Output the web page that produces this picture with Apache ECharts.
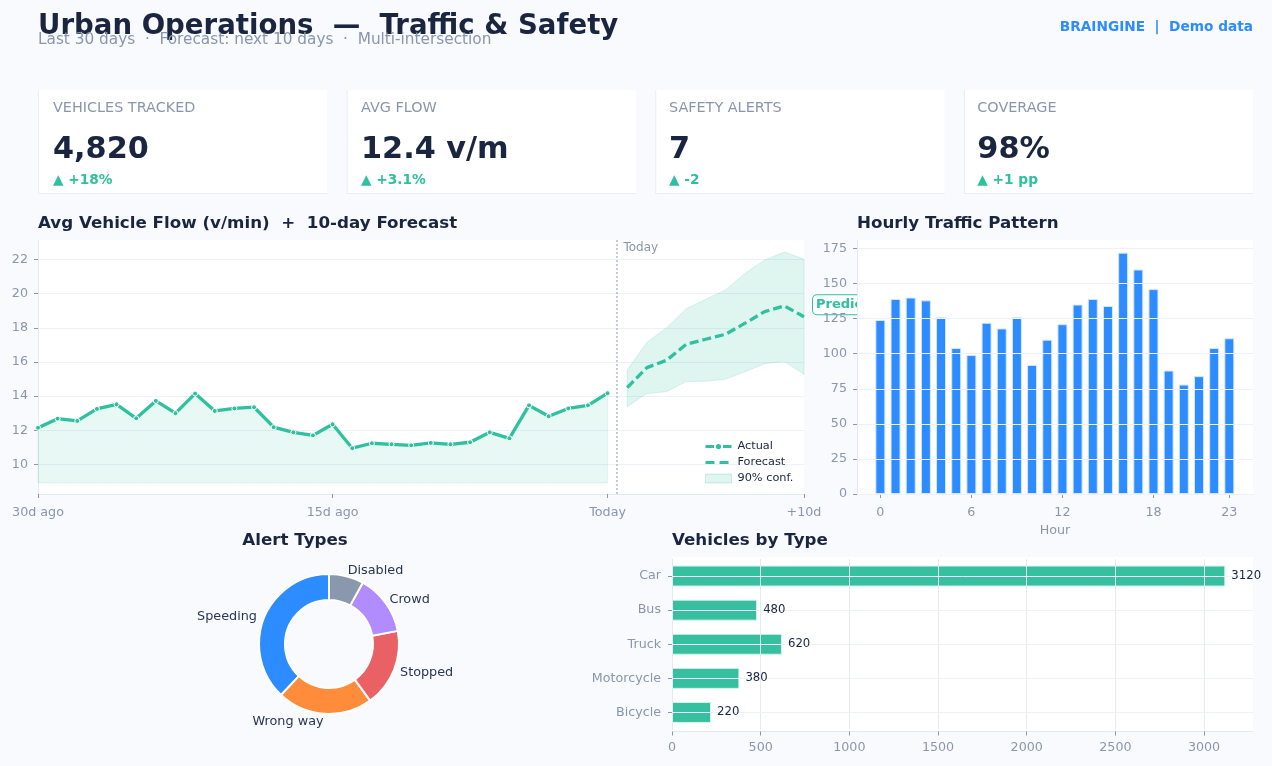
<!DOCTYPE html>
<html>
<head>
<meta charset="utf-8">
<title>Urban Operations</title>
<script src="https://cdn.jsdelivr.net/npm/echarts@6/dist/echarts.min.js"></script>
<style>
html, body { margin: 0; padding: 0; background: #F8FAFE; }
#main { width: 1272px; height: 766px; }
</style>
</head>
<body>
<div id="main"></div>
<script>
// card values
var cardLabels = ['VEHICLES TRACKED', 'AVG FLOW', 'SAFETY ALERTS', 'COVERAGE'];
var cardValues = ['4,820', '12.4 v/m', '7', '98%'];
var cardDeltas = ['▲ +18%', '▲ +3.1%', '▲ -2', '▲ +1 pp'];

// flow chart
var actualFlow = [12.15, 12.68, 12.55, 13.25, 13.52, 12.7, 13.72, 13.0, 14.15, 13.13, 13.28, 13.35, 12.18, 11.88, 11.7, 12.35,
	10.95, 11.24, 11.18, 11.12, 11.26, 11.18, 11.3, 11.88, 11.53, 13.46, 12.82, 13.28, 13.46, 14.17];
var forecastFlow = [14.5, 15.67, 16.1, 17.03, 17.33, 17.62, 18.27, 18.95, 19.28, 18.65];
var forecastUpper = [15.53, 17.15, 18.0, 19.12, 19.67, 20.22, 21.2, 21.97, 22.44, 22.03];
var forecastLower = [13.38, 14.15, 14.26, 14.85, 14.87, 14.99, 15.43, 15.9, 16.02, 15.28];
var actualFloor = 8.92;
var flowTicks = [10, 12, 14, 16, 18, 20, 22];
var dayTicks = [0, 15, 29, 39];
var dayLabels = ['30d ago', '15d ago', 'Today', '+10d'];
var todayMark = 29.45;

// hourly chart
var hourlyCounts = [124, 139, 140, 138, 126, 104, 99, 122, 118, 126, 92, 110, 121, 135, 139, 134, 172, 160, 146, 88, 78, 84, 104, 111];
var hourTicks = [0, 6, 12, 18, 23];
var countTicks = [0, 25, 50, 75, 100, 125, 150, 175];

// alert donut
var alertNames = ['Speeding', 'Wrong way', 'Stopped', 'Crowd', 'Disabled'];
var alertValues = [38, 22, 18, 14, 8];
var alertColors = ['#2D8CFF', '#FF8C3A', '#E96065', '#B18CFF', '#8A98AD'];

// vehicle types
var vehicleTypes = ['Car', 'Bus', 'Truck', 'Motorcycle', 'Bicycle'];
var vehicleCounts = [3120, 480, 620, 380, 220];
var vehicleTicks = [0, 500, 1000, 1500, 2000, 2500, 3000];

var green = '#2FC09F';
var navy = '#1A2540';
var gray = '#8A96AD';
var gridColor = '#EEF1F7';
var axisColor = '#E4E9F2';
var font = '"DejaVu Sans"';

function range(start, count) {
	var out = [];
	for (var i = 0; i < count; i++) {
		out.push(start + i);
	}
	return out;
}

var actualX = range(0, actualFlow.length);
var forecastX = range(30, forecastFlow.length);

// one polygon between two value lists, drawn once for the whole series
function bandItem(xs, lower, upper, fill, stroke) {
	return function(params, api) {
		if (params.dataIndex !== 0) {
			return null;
		}
		var points = [];
		for (var i = 0; i < xs.length; i++) {
			points.push(api.coord([xs[i], upper[i]]));
		}
		for (var j = xs.length - 1; j >= 0; j--) {
			points.push(api.coord([xs[j], lower[j]]));
		}
		return {
			type: 'polygon',
			shape: { points: points },
			style: { fill: fill, stroke: stroke, lineWidth: 1 }
		};
	};
}

function pairs(xs, ys) {
	return xs.map(function(x, i) { return [x, ys[i]]; });
}

function sectionTitle(text, x, y, align) {
	return {
		type: 'text',
		x: x,
		y: y,
		z: 10,
		style: { text: text, fill: navy, font: 'bold 16.7px ' + font, textAlign: align || 'left', textVerticalAlign: 'middle' }
	};
}

var cardLeft = [38, 346.7, 655.3, 964];
var cardTextLeft = [53, 361, 669, 977.3];
var graphics = [
	{ type: 'text', x: 38, y: 26.5, z: 10, style: { text: 'Urban Operations  —  Traffic & Safety', fill: navy, font: 'bold 27.6px ' + font, textVerticalAlign: 'middle' } },
	{ type: 'text', x: 38, y: 40, z: 11, style: { text: 'Last 30 days  ·  Forecast: next 10 days  ·  Multi-intersection', fill: gray, font: '15.3px ' + font, textVerticalAlign: 'middle' } },
	{ type: 'text', x: 1253, y: 27, z: 10, style: { text: 'BRAINGINE  |  Demo data', fill: '#2D8CFF', font: 'bold 13.7px ' + font, textAlign: 'right', textVerticalAlign: 'middle' } },
	sectionTitle('Avg Vehicle Flow (v/min)  +  10-day Forecast', 38, 224),
	sectionTitle('Hourly Traffic Pattern', 857, 224),
	sectionTitle('Alert Types', 295, 541, 'center'),
	sectionTitle('Vehicles by Type', 672, 541),
	// white panel behind the vehicles plot
	{ type: 'rect', shape: { x: 672, y: 557, width: 581, height: 174 }, z: -10, style: { fill: '#FFFFFF' } }
];

cardLabels.forEach(function(label, i) {
	var x = cardLeft[i];
	var tx = cardTextLeft[i];
	graphics.push(
		{ type: 'rect', shape: { x: x, y: 90, width: 289.5, height: 104 }, z: 1, style: { fill: '#E9EDF4' } },
		{ type: 'rect', shape: { x: x + 1, y: 90, width: 288.5, height: 103 }, z: 2, style: { fill: '#FFFFFF' } },
		{ type: 'text', x: tx, y: 108, z: 3, style: { text: label, fill: gray, font: '14.4px ' + font, textVerticalAlign: 'middle' } },
		{ type: 'text', x: tx, y: 150, z: 3, style: { text: cardValues[i], fill: navy, font: 'bold 30.3px ' + font, textVerticalAlign: 'middle' } },
		{ type: 'text', x: tx, y: 180, z: 3, style: { text: cardDeltas[i], fill: green, font: 'bold 13.7px ' + font, textVerticalAlign: 'middle' } }
	);
});

// nudges for the donut labels, label order follows alertNames
var alertLabelShift = [[-1, -1], [4, 7], [0, 3], [-2, -3], [-4, -5]];

var axisText = { color: gray, fontSize: 12.7, fontFamily: font };

var option = {
	animation: false,
	backgroundColor: '#F8FAFE',
	textStyle: { fontFamily: font },
	graphic: { elements: graphics },
	grid: [
		{ left: 38, top: 240, width: 766, height: 254, show: true, backgroundColor: '#FFFFFF', borderWidth: 0, z: -5 },
		{ left: 857, top: 240, width: 396, height: 254, show: true, backgroundColor: '#FFFFFF', borderWidth: 0, z: 0 },
		{ left: 672, top: 559, width: 581, height: 170.5, show: false }
	],
	legend: {
		left: 699,
		top: 436,
		orient: 'vertical',
		itemWidth: 26,
		itemHeight: 9,
		itemGap: 5,
		textStyle: { color: navy, fontSize: 11.3, fontFamily: font, padding: [0, 0, 0, 1] },
		data: [
			{ name: 'Actual', lineStyle: { color: green, width: 3 }, itemStyle: { color: green, borderColor: '#FFFFFF', borderWidth: 2 } },
			{ name: 'Forecast', lineStyle: { color: green, width: 3, type: [9, 5] }, itemStyle: { opacity: 0 } },
			{ name: '90% conf.', icon: 'rect', itemStyle: { color: 'rgba(47,192,159,0.16)', borderColor: 'rgba(47,192,159,0.22)', borderWidth: 1 } }
		]
	},
	xAxis: [
		{
			gridIndex: 0,
			type: 'value',
			min: 0,
			max: 39,
			axisLine: { onZero: false, lineStyle: { color: axisColor } },
			axisTick: { show: true, length: 4, lineStyle: { color: gray }, customValues: dayTicks },
			axisLabel: Object.assign({}, axisText, {
				margin: 12,
				customValues: dayTicks,
				formatter: function(v) { return dayLabels[dayTicks.indexOf(v)]; }
			}),
			splitLine: { show: false }
		},
		{
			gridIndex: 1,
			type: 'value',
			min: -1.54,
			max: 24.56,
			name: 'Hour',
			nameLocation: 'middle',
			nameGap: 30,
			nameTextStyle: { color: gray, fontSize: 12.7 },
			axisLine: { onZero: false, lineStyle: { color: axisColor } },
			axisTick: { show: true, length: 4, lineStyle: { color: gray }, customValues: hourTicks },
			axisLabel: Object.assign({}, axisText, { margin: 12, customValues: hourTicks }),
			splitLine: { show: false }
		},
		{
			gridIndex: 2,
			type: 'value',
			min: 0,
			max: 3276,
			offset: 2,
			z: 5,
			axisLine: { show: true, onZero: false, lineStyle: { color: axisColor } },
			axisTick: { show: true, length: 4, lineStyle: { color: gray }, customValues: vehicleTicks },
			axisLabel: Object.assign({}, axisText, {
				margin: 10,
				customValues: vehicleTicks,
				formatter: function(v) { return String(v); }
			}),
			splitLine: { show: true, lineStyle: { color: axisColor }, customValues: vehicleTicks }
		}
	],
	yAxis: [
		{
			gridIndex: 0,
			type: 'value',
			min: 8.27,
			max: 23.14,
			axisLine: { show: true, onZero: false, lineStyle: { color: axisColor } },
			axisTick: { show: true, length: 4, lineStyle: { color: gray }, customValues: flowTicks },
			axisLabel: Object.assign({}, axisText, { margin: 10, padding: [2, 0, 0, 0], customValues: flowTicks }),
			splitLine: { show: true, lineStyle: { color: gridColor }, customValues: flowTicks }
		},
		{
			gridIndex: 1,
			type: 'value',
			min: 0,
			max: 181,
			z: 5,
			axisLine: { show: true, onZero: false, lineStyle: { color: axisColor } },
			axisTick: { show: true, length: 4, lineStyle: { color: gray }, customValues: countTicks },
			axisLabel: Object.assign({}, axisText, { margin: 10, padding: [2, 0, 0, 0], customValues: countTicks }),
			splitLine: { show: true, lineStyle: { color: gridColor }, customValues: countTicks }
		},
		{
			gridIndex: 2,
			type: 'category',
			inverse: true,
			data: vehicleTypes,
			axisLine: { show: true, onZero: false, lineStyle: { color: axisColor } },
			axisTick: { show: true, alignWithLabel: true, length: 4, lineStyle: { color: gray } },
			axisLabel: Object.assign({}, axisText, { margin: 11, padding: [4, 0, 0, 0] }),
			splitLine: { show: false }
		}
	],
	series: [
		{
			name: 'actual band',
			type: 'custom',
			xAxisIndex: 0,
			yAxisIndex: 0,
			z: 1,
			silent: true,
			data: pairs(actualX, actualFlow),
			renderItem: bandItem(actualX, actualX.map(function() { return actualFloor; }), actualFlow, 'rgba(47,192,159,0.11)', 'rgba(47,192,159,0.11)')
		},
		{
			name: '90% conf.',
			type: 'custom',
			xAxisIndex: 0,
			yAxisIndex: 0,
			z: 1,
			silent: true,
			itemStyle: { color: 'rgba(47,192,159,0.16)' },
			data: pairs(forecastX, forecastUpper),
			renderItem: bandItem(forecastX, forecastLower, forecastUpper, 'rgba(47,192,159,0.16)', 'rgba(47,192,159,0.16)')
		},
		{
			name: 'Actual',
			type: 'line',
			xAxisIndex: 0,
			yAxisIndex: 0,
			z: 3,
			data: pairs(actualX, actualFlow),
			lineStyle: { color: green, width: 3.3 },
			itemStyle: { color: green, borderColor: '#FFFFFF', borderWidth: 1 },
			symbol: 'circle',
			symbolSize: 5,
			showAllSymbol: true,
			markLine: {
				silent: true,
				symbol: 'none',
				label: { show: false },
				lineStyle: { color: '#B3BAC9', type: [2, 2], width: 1.5 },
				data: [{ xAxis: todayMark }]
			}
		},
		{
			name: 'Forecast',
			type: 'line',
			xAxisIndex: 0,
			yAxisIndex: 0,
			z: 3,
			data: pairs(forecastX, forecastFlow),
			lineStyle: { color: green, width: 3.3, type: [9, 4] },
			itemStyle: { color: green },
			symbol: 'none',
			markPoint: {
				silent: true,
				z: -2,
				symbol: 'circle',
				symbolSize: 0,
				data: [
					{
						coord: [39, 19.35],
						label: {
							show: true,
							position: 'right',
							distance: 9,
							formatter: 'Prediction',
							color: green,
							fontSize: 13,
							fontWeight: 'bold',
							backgroundColor: '#FFFFFF',
							borderColor: green,
							borderWidth: 1,
							borderRadius: 4,
							padding: [3, 3]
						}
					},
					{
						coord: [todayMark, 22.7],
						label: { show: true, position: 'right', distance: 7, formatter: 'Today', color: gray, fontSize: 12 }
					}
				]
			}
		},
		{
			name: 'Hourly',
			type: 'bar',
			xAxisIndex: 1,
			yAxisIndex: 1,
			barWidth: 10,
			z: 2,
			data: pairs(range(0, hourlyCounts.length), hourlyCounts),
			itemStyle: { color: '#2D8CFF', borderColor: '#D6E6FF', borderWidth: 1 }
		},
		{
			name: 'Alert Types',
			type: 'pie',
			center: [329, 644],
			radius: [44, 70],
			startAngle: 90,
			clockwise: false,
			avoidLabelOverlap: false,
			data: alertNames.map(function(name, i) {
				return { name: name, value: alertValues[i], itemStyle: { color: alertColors[i] } };
			}),
			itemStyle: { borderColor: '#FFFFFF', borderWidth: 2 },
			label: { show: true, position: 'outside', color: '#2A3550', fontSize: 12.8 },
			labelLine: { show: false, length: 1, length2: 0 },
			labelLayout: function(params) {
				var shift = alertLabelShift[params.dataIndex];
				return { dx: shift[0], dy: shift[1] };
			}
		},
		{
			name: 'Vehicles',
			type: 'bar',
			xAxisIndex: 2,
			yAxisIndex: 2,
			barWidth: 21,
			z: 2,
			data: vehicleCounts,
			itemStyle: { color: '#36C09F', borderColor: '#D8F3EC', borderWidth: 1 },
			markLine: {
				silent: true,
				symbol: 'none',
				z: 5,
				label: { show: false },
				lineStyle: { color: gridColor, type: 'solid', width: 1 },
				data: vehicleTypes.map(function(t) { return { yAxis: t }; })
			}
		},
		{
			// value labels sit above the grid lines
			name: 'Vehicle labels',
			type: 'bar',
			xAxisIndex: 2,
			yAxisIndex: 2,
			barWidth: 21,
			barGap: '-100%',
			z: 6,
			silent: true,
			data: vehicleCounts,
			itemStyle: { color: 'rgba(0,0,0,0)' },
			label: { show: true, position: 'right', distance: 6, color: navy, fontSize: 11.7 }
		}
	]
};

var myChart = echarts.init(document.getElementById('main'));
myChart.setOption(option);
</script>
</body>
</html>
